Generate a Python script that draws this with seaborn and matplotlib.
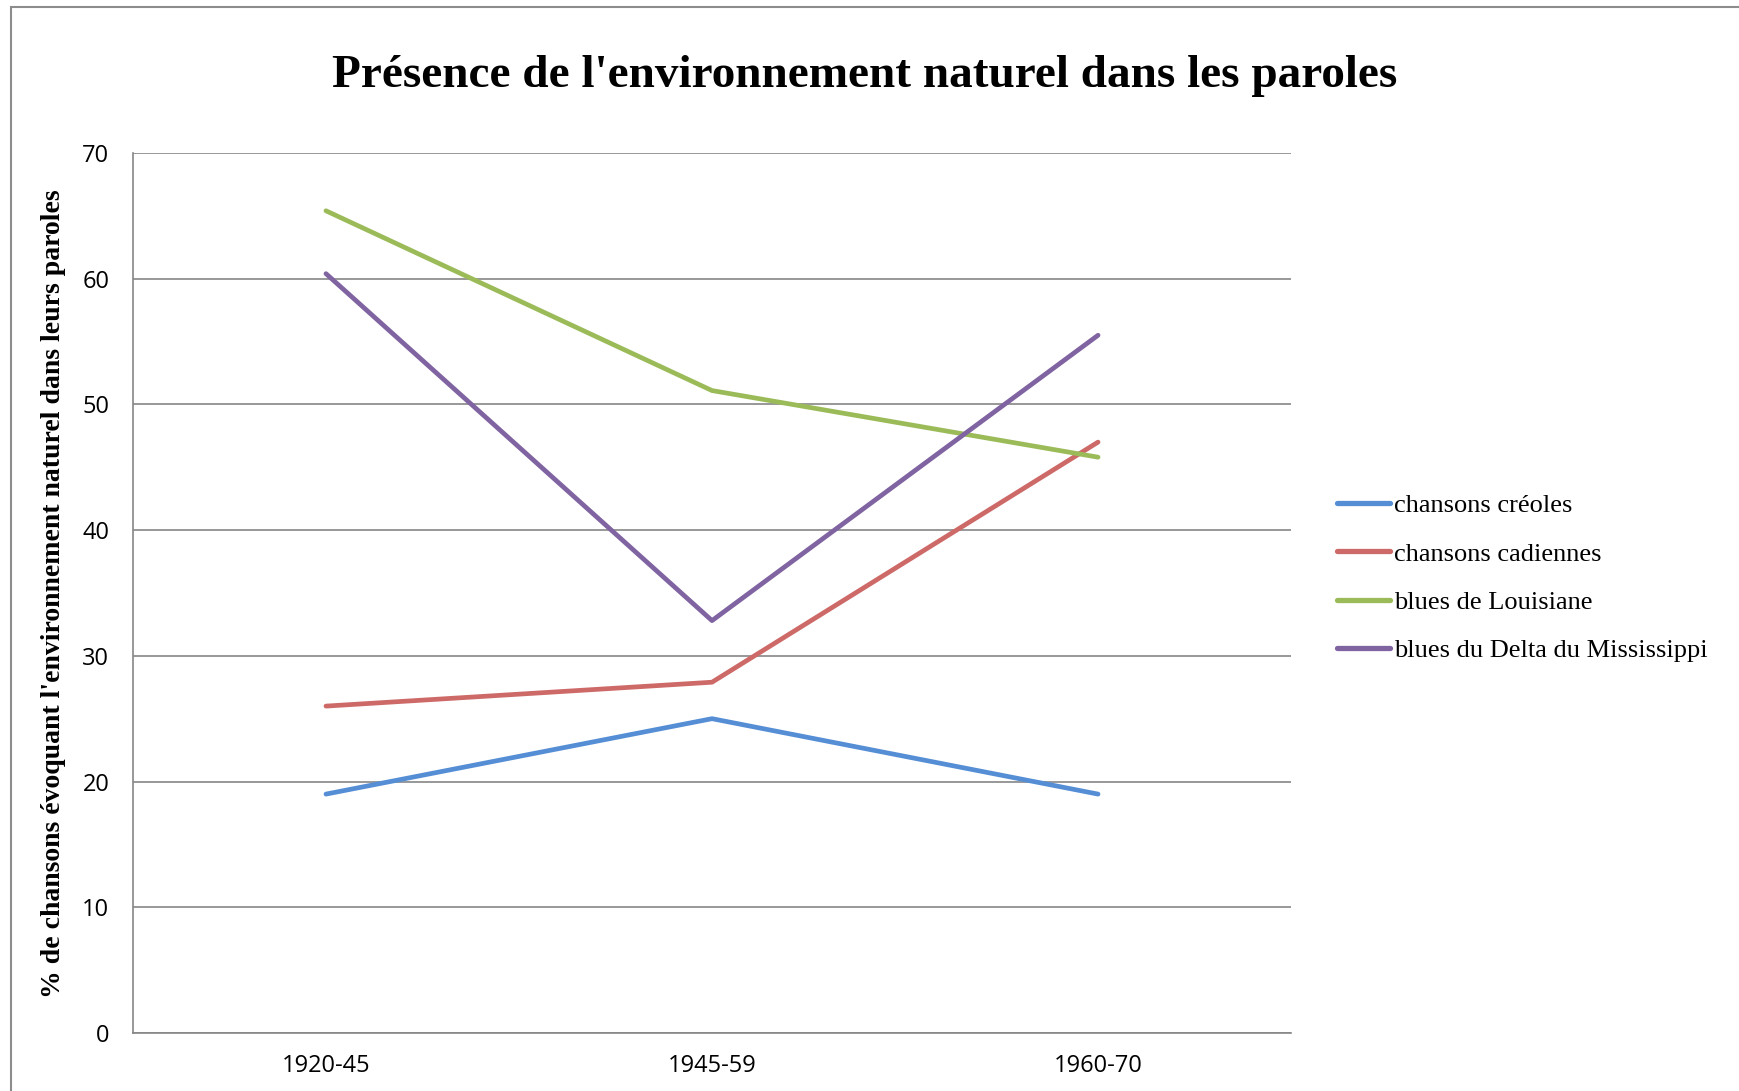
import pandas as pd
import seaborn as sns
import matplotlib.pyplot as plt
from matplotlib.patches import Rectangle

# data
periods = ['1920-45', '1945-59', '1960-70']
series = ['chansons créoles', 'chansons cadiennes', 'blues de Louisiane',
          'blues du Delta du Mississippi']
creoles = [19.0, 25.0, 19.0]
cadiennes = [26.0, 27.9, 47.0]
louisiane = [65.4, 51.1, 45.8]
delta = [60.4, 32.8, 55.5]
colors = ['#558ED5', '#CD6A68', '#9BBB59', '#8064A2']

rows = []
for name, vals in zip(series, [creoles, cadiennes, louisiane, delta]):
    for p, v in zip(periods, vals):
        rows.append({'periode': p, 'serie': name, 'valeur': v})
df = pd.DataFrame(rows)
df['x'] = df['periode'].map({p: i for i, p in enumerate(periods)})

sns.set_style('white')
serif = ['Liberation Serif', 'DejaVu Serif']
sans = ['Open Sans', 'DejaVu Sans']

fig = plt.figure(figsize=(17.4, 10.91), dpi=100)
ax = fig.add_axes([0.0764, 0.0532, 0.742 - 0.0764, 0.8598 - 0.0532])

sns.lineplot(data=df, x='x', y='valeur', hue='serie', hue_order=series,
             palette=colors, linewidth=3.4, ax=ax, sort=False,
             solid_capstyle='round')

ax.set_xlim(-0.5, 2.5)
ax.set_ylim(0, 70)
ax.set_yticks(range(0, 71, 10))
ax.set_xticks(range(len(periods)))
ax.set_xticklabels(periods)
ax.yaxis.grid(True, color='#868686', linewidth=1.2)
ax.set_axisbelow(True)
for s in ['top', 'right']:
    ax.spines[s].set_visible(False)
for s in ['left', 'bottom']:
    ax.spines[s].set_color('#868686')
    ax.spines[s].set_linewidth(1.2)
ax.tick_params(axis='both', length=0, labelsize=17, labelcolor='black')
ax.tick_params(axis='y', pad=17)
ax.tick_params(axis='x', pad=15)
for lab in ax.get_xticklabels() + ax.get_yticklabels():
    lab.set_family(sans)
ax.set_xlabel('')
ax.set_ylabel('')

fig.text(0.0305, 0.456,
         "% de chansons évoquant l'environnement naturel dans leurs paroles",
         rotation=90, ha='center', va='center', fontsize=20, color='black',
         fontweight='bold', family=serif)
fig.text(0.497, 0.93, "Présence de l'environnement naturel dans les paroles",
         ha='center', va='center', fontsize=34, fontweight='bold',
         color='black', family=serif)

leg = ax.legend(loc='center left', bbox_to_anchor=(1.019, 0.517),
                frameon=False, handlelength=2.0, handletextpad=0.15,
                labelspacing=0.94, prop={'family': serif, 'size': 19})
for line in leg.get_lines():
    line.set_linewidth(3.8)
for t in leg.get_texts():
    t.set_color('black')

# outer chart frame (cut at right and bottom)
fig.patches.append(Rectangle((11 / 1740, -0.1), 1.2, 1 - 7 / 1091 + 0.1,
                             transform=fig.transFigure, fill=False,
                             edgecolor='#8c8c8c', linewidth=1.5))

fig.savefig('out.png', dpi=100)
